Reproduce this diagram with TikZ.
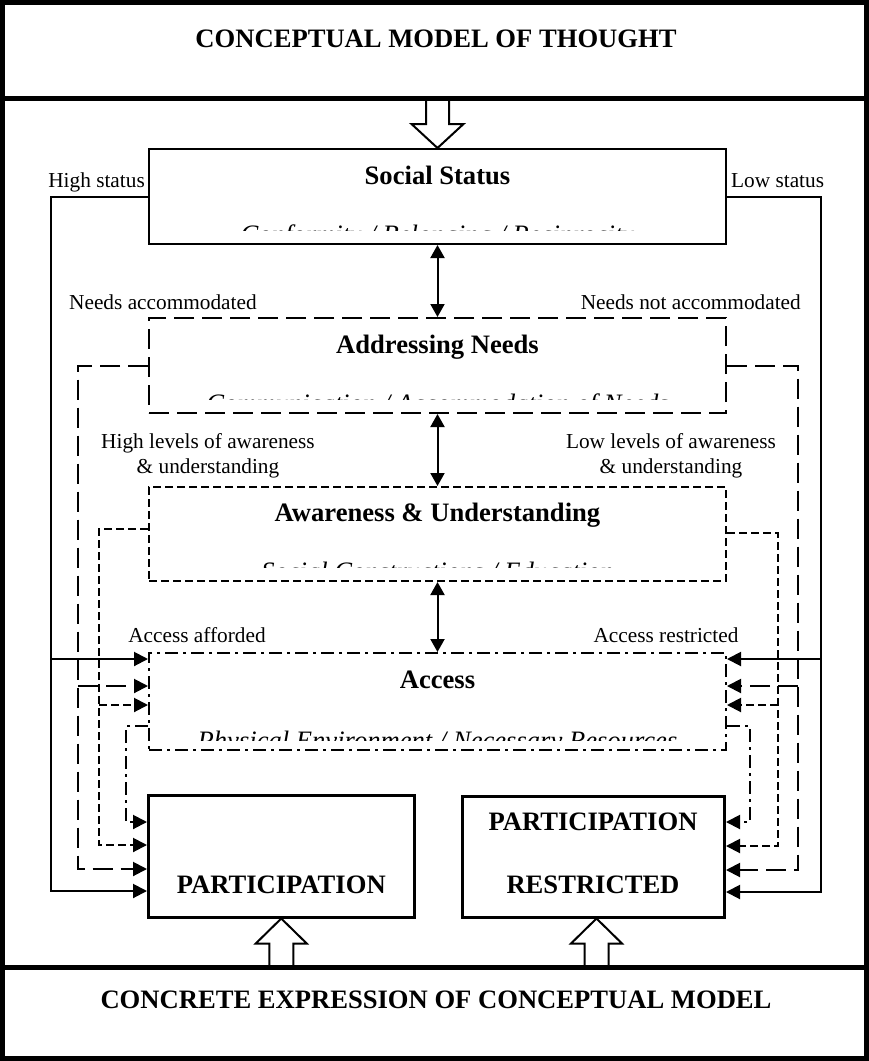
\documentclass[tikz,border=0pt]{standalone}
\usepackage{fontspec}
\setmainfont{Liberation Serif}
\usetikzlibrary{arrows.meta,calc}
\begin{document}
\begin{tikzpicture}[x=1pt,y=-1pt,
  panel/.style={draw, line width=5pt, outer sep=0pt, inner sep=0pt, minimum width=864pt},
  box/.style={draw, line width=2pt, inner sep=0pt, minimum width=577pt},
  pbox/.style={draw, line width=3pt, inner sep=0pt},
  ttl/.style={font=\fontsize{26.6}{30}\selectfont\bfseries, inner sep=0pt},
  sublbl/.style={font=\fontsize{26.6}{30}\selectfont\itshape, inner sep=0pt},
  lbl/.style={font=\fontsize{21.3}{25}\selectfont, inner sep=0pt, align=center},
  arr/.style={-{Triangle[length=14pt,width=14pt]}},
  dtip/.style={{Triangle[length=13pt,width=14pt]}-{Triangle[length=13pt,width=14pt]}},
  conn/.style={line width=2pt},
  longd/.style={conn, dash pattern=on 20pt off 8pt},
  shortd/.style={conn, dash pattern=on 8pt off 4pt},
  dashdotc/.style={conn, dash pattern=on 13pt off 5pt on 3pt off 5pt},
  hollow/.style={draw, line width=2pt, line join=miter}
]
\useasboundingbox (0,0) rectangle (869,1061);

% panels
\node[panel, minimum height=95.5pt] (tp) at (434.5,50.25) {};
\node[panel, minimum height=869pt] (mp) at (434.5,532.5) {};
\node[panel, minimum height=91.5pt] (bp) at (434.5,1012.75) {};
\node[ttl, anchor=base] (ttop) at (436,47) {CONCEPTUAL MODEL OF THOUGHT};
\node[ttl, anchor=base] (tbot) at (436,1008) {CONCRETE EXPRESSION OF CONCEPTUAL MODEL};

% boxes
\node[box, minimum height=95pt] (ss) at (437.5,196.5) {};
\node[box, minimum height=95pt, dash pattern=on 20pt off 8pt] (an) at (437.5,365.5) {};
\node[box, minimum height=94pt, dash pattern=on 8pt off 4pt] (au) at (437.5,534) {};
\node[box, minimum height=97pt, dash pattern=on 13pt off 5pt on 3pt off 5pt] (ac) at (437.5,701.5) {};
\node[pbox, minimum width=265.5pt, minimum height=122pt] (pa) at (281.25,856) {};
\node[pbox, minimum width=262pt, minimum height=121pt] (pr) at (593.5,856.5) {};

% titles
\node[ttl, anchor=base] (tss) at (437.5,184) {Social Status};
\node[ttl, anchor=base] (tan) at (437.5,353) {Addressing Needs};
\node[ttl, anchor=base] (tau) at (437.5,521) {Awareness \& Understanding};
\node[ttl, anchor=base] (tac) at (437.5,688) {Access};
\node[ttl, anchor=base] (tpa) at (281.25,893) {PARTICIPATION};
\node[ttl, anchor=base] (tpr1) at (593,830) {PARTICIPATION};
\node[ttl, anchor=base] (tpr2) at (593,893) {RESTRICTED};

% clipped subtitles
\begin{scope}
\clip ($(ss.south west)+(0,-14.5)$) rectangle (ss.north east);
\node[sublbl, anchor=base] (sss) at (437.5,243) {Conformity / Belonging / Reciprocity};
\end{scope}
\begin{scope}
\clip ($(an.south west)+(0,-14.5)$) rectangle (an.north east);
\node[sublbl, anchor=base] (san) at (437.5,412) {Communication / Accommodation of Needs};
\end{scope}
\begin{scope}
\clip ($(au.south west)+(0,-14.5)$) rectangle (au.north east);
\node[sublbl, anchor=base] (sau) at (437.5,580) {Social Constructions / Education};
\end{scope}
\begin{scope}
\clip ($(ac.south west)+(0,-11)$) rectangle (ac.north east);
\node[sublbl, anchor=base] (sac) at (437.5,749) {Physical Environment / Necessary Resources};
\end{scope}

% labels
\node[lbl, anchor=base east] (lhs) at (145,187) {High status};
\node[lbl, anchor=base west] (lls) at (731,187) {Low status};
\node[lbl, anchor=base west] (lna) at (69,309) {Needs accommodated};
\node[lbl, anchor=base east] (lnn) at (801,309) {Needs not accommodated};
\node[lbl, anchor=base] (lhl) at (208,473) {High levels of awareness\\\& understanding};
\node[lbl, anchor=base] (lll) at (671,473) {Low levels of awareness\\\& understanding};
\node[lbl, anchor=base] (laa) at (197,642) {Access afforded};
\node[lbl, anchor=base] (lar) at (666,642) {Access restricted};

% hollow arrows
\coordinate (prt) at ($(pr.south)+(3,0)$);
\draw[hollow] (ss.north) -- ++(26,-24) -- ++(-14.5,0) -- ($(ss.north |- tp.south)+(11.5,0)$) -- ($(ss.north |- tp.south)+(-11.5,0)$) -- ($(ss.north)+(-11.5,-24)$) -- ++(-14.5,0) -- cycle;
\draw[hollow] (pa.south) -- ++(25.5,25) -- ++(-13.5,0) -- ($(pa.south |- bp.north)+(12,0)$) -- ($(pa.south |- bp.north)+(-12,0)$) -- ($(pa.south)+(-12,25)$) -- ++(-13.5,0) -- cycle;
\draw[hollow] (prt) -- ++(25.5,25) -- ++(-13.5,0) -- ($(prt |- bp.north)+(12,0)$) -- ($(prt |- bp.north)+(-12,0)$) -- ($(prt)+(-12,25)$) -- ++(-13.5,0) -- cycle;

% double arrows
\draw[conn, dtip] (ss.south) -- (an.north);
\draw[conn, dtip] (an.south) -- (au.north);
\draw[conn, dtip] (au.south) -- (ac.north);

% junction coordinates
\coordinate (Ls1) at (51,659);  \coordinate (Ls2) at (51,891);
\coordinate (Ll1) at (78,686);  \coordinate (Ll2) at (78,869);
\coordinate (Lh1) at (99,705);  \coordinate (Lh2) at (99,845);
\coordinate (Ld2) at (126,822);
\coordinate (Rs1) at (821,659); \coordinate (Rs2) at (821,892);
\coordinate (Rl1) at (798,686); \coordinate (Rl2) at (798,870);
\coordinate (Rh1) at (778,705); \coordinate (Rh2) at (778,846);
\coordinate (Rd2) at (750,822);

% left connectors
\draw[conn, arr] (ss.west) -| (Ls2) -- (Ls2 -| pa.west);
\draw[conn, arr] (Ls1) -- (Ls1 -| ac.west);
\draw[longd, arr] (an.west) -| (Ll2) -- (Ll2 -| pa.west);
\draw[longd, arr] (Ll1) -- (Ll1 -| ac.west);
\draw[shortd, arr] (au.west |- 0,529) -| (Lh2) -- (Lh2 -| pa.west);
\draw[shortd, arr] (Lh1) -- (Lh1 -| ac.west);
\draw[dashdotc, arr] (ac.west |- 0,726) -| (Ld2) -- (Ld2 -| pa.west);

% right connectors
\draw[conn, arr] (ss.east) -| (Rs2) -- (Rs2 -| pr.east);
\draw[conn, arr] (Rs1) -- (Rs1 -| ac.east);
\draw[longd, arr] (an.east) -| (Rl2) -- (Rl2 -| pr.east);
\draw[longd, arr] (Rl1) -- (Rl1 -| ac.east);
\draw[shortd, arr] (au.east |- 0,533) -| (Rh2) -- (Rh2 -| pr.east);
\draw[shortd, arr] (Rh1) -- (Rh1 -| ac.east);
\draw[dashdotc, arr] (ac.east |- 0,726) -| (Rd2) -- (Rd2 -| pr.east);
\end{tikzpicture}
\end{document}
